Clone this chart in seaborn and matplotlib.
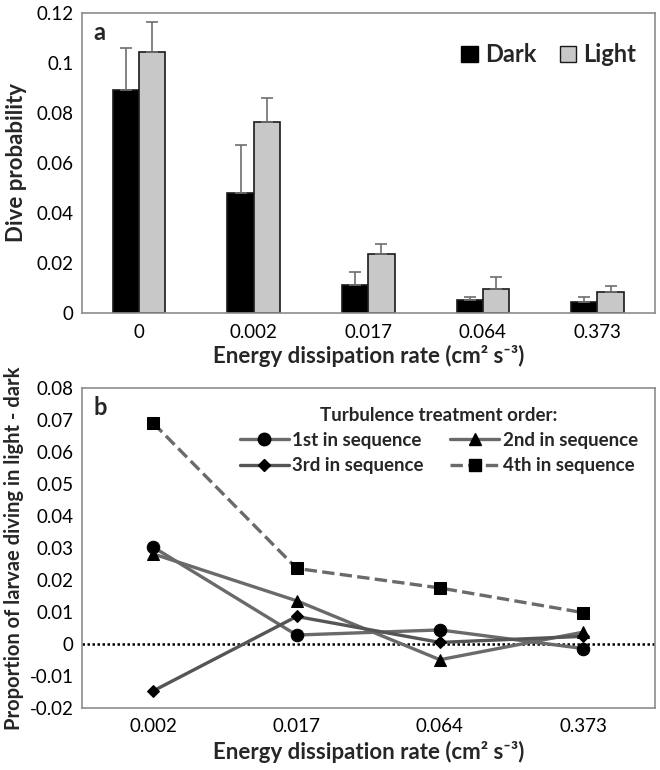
import matplotlib
matplotlib.use("Agg")
from matplotlib import pyplot as plt
from matplotlib.patches import Patch
from matplotlib.lines import Line2D
import seaborn as sns
import pandas as pd

# panel a
rates_a = ["0", "0.002", "0.017", "0.064", "0.373"]
dark = [0.0893, 0.0478, 0.0111, 0.0050, 0.0043]
light = [0.1045, 0.0762, 0.0234, 0.0095, 0.0082]
dark_err = [0.0168, 0.0194, 0.0050, 0.0014, 0.0021]
light_err = [0.0121, 0.0098, 0.0040, 0.0046, 0.0024]

# panel b
rates_b = ["0.002", "0.017", "0.064", "0.373"]
first = [0.0303, 0.0029, 0.0045, -0.0013]
second = [0.0282, 0.0136, -0.0048, 0.0038]
third = [-0.0145, 0.0087, 0.0006, 0.0025]
fourth = [0.0690, 0.0237, 0.0176, 0.0099]
series_names = ["1st in sequence", "2nd in sequence", "3rd in sequence", "4th in sequence"]

xlab = "Energy dissipation rate (cm\u00b2 s\u207b\u00b3)"

sns.set_theme(style="white")
plt.rcParams["font.family"] = ["Lato", "DejaVu Sans"]

fig = plt.figure(figsize=(6.6, 7.7), dpi=100)
ax1 = fig.add_axes([0.124, 0.594, 0.868, 0.389])
ax2 = fig.add_axes([0.124, 0.08, 0.868, 0.416])

edge = "#8c8c8c"
for ax in (ax1, ax2):
    for s in ax.spines.values():
        s.set_color(edge)
        s.set_linewidth(1.2)
    ax.tick_params(axis="both", labelsize=13.5, length=0, colors="black", pad=6)
ax1.tick_params(axis="x", pad=8)

# ---- panel a: bars
df_a = pd.DataFrame({
    "rate": rates_a * 2,
    "value": dark + light,
    "cond": ["Dark"] * len(rates_a) + ["Light"] * len(rates_a),
})
sns.barplot(data=df_a, x="rate", y="value", hue="cond", order=rates_a,
            palette={"Dark": "black", "Light": "#c8c8c8"}, errorbar=None,
            width=0.46, edgecolor="#1a1a1a", linewidth=1.2, ax=ax1, legend=False)

for cont, errs, vals in zip(ax1.containers, [dark_err, light_err], [dark, light]):
    xs = [p.get_x() + p.get_width() / 2 for p in cont.patches]
    ax1.errorbar(xs, vals, yerr=[[0] * len(errs), errs], fmt="none",
                 ecolor="#6e6e6e", elinewidth=1.2, capsize=4, capthick=1.2, zorder=1)

ax1.set_ylim(0, 0.12)
ax1.set_yticks([0, 0.02, 0.04, 0.06, 0.08, 0.1, 0.12])
ax1.set_yticklabels(["0", "0.02", "0.04", "0.06", "0.08", "0.1", "0.12"])
ax1.set_xlim(-0.5, len(rates_a) - 0.5)
ax1.set_xlabel(xlab, fontsize=16, fontweight="bold", labelpad=3)
ax1.set_ylabel("Dive probability", fontsize=16, fontweight="bold", labelpad=7)
ax1.text(0.02, 0.975, "a", transform=ax1.transAxes, fontsize=17, fontweight="bold", va="top")
handles_a = [Patch(facecolor="black", edgecolor="black"),
             Patch(facecolor="#c8c8c8", edgecolor="#1a1a1a")]
ax1.legend(handles_a, ["Dark", "Light"], loc="upper right", ncol=2, frameon=False,
           prop={"size": 17, "weight": "bold"}, handlelength=0.7, handleheight=0.7,
           handletextpad=0.3, columnspacing=1.0, bbox_to_anchor=(1.005, 0.97))

# ---- panel b: lines
df_b = pd.DataFrame({
    "rate": rates_b * 4,
    "value": first + second + third + fourth,
    "order": sum([[n] * len(rates_b) for n in series_names], []),
})
markers = {series_names[0]: "o", series_names[1]: "^", series_names[2]: "D", series_names[3]: "s"}
msizes = {series_names[0]: 9, series_names[1]: 9, series_names[2]: 6, series_names[3]: 9}
colors = {series_names[0]: "#6a6a6a", series_names[1]: "#6a6a6a",
          series_names[2]: "#555555", series_names[3]: "#6a6a6a"}
ax2.axhline(0, color="black", linestyle=(0, (1, 1)), linewidth=1.8, zorder=1)
for name in series_names:
    sub = df_b[df_b["order"] == name]
    sns.lineplot(data=sub, x="rate", y="value", ax=ax2, color=colors[name],
                 linewidth=2.4, linestyle="--" if name.startswith("4th") else "-",
                 marker=markers[name], markersize=msizes[name], markerfacecolor="black",
                 markeredgecolor="black", sort=False, zorder=3)

ax2.set_ylim(-0.02, 0.08)
ax2.set_yticks([-0.02, -0.01, 0, 0.01, 0.02, 0.03, 0.04, 0.05, 0.06, 0.07, 0.08])
ax2.set_yticklabels(["-0.02", "-0.01", "0", "0.01", "0.02", "0.03", "0.04", "0.05", "0.06", "0.07", "0.08"])
ax2.set_xlim(-0.5, len(rates_b) - 0.5)
ax2.tick_params(axis="x", pad=7)
ax2.set_xlabel(xlab, fontsize=16, fontweight="bold", labelpad=4)
ax2.set_ylabel("Proportion of larvae diving in light - dark", fontsize=14.5, fontweight="bold", labelpad=4)
ax2.text(0.02, 0.975, "b", transform=ax2.transAxes, fontsize=17, fontweight="bold", va="top")

handles_b = [Line2D([], [], color=colors[n], linewidth=2.4,
                    linestyle="--" if n.startswith("4th") else "-", marker=markers[n],
                    markersize=msizes[n], markerfacecolor="black", markeredgecolor="black")
             for n in series_names]
order_idx = [0, 2, 1, 3]
ax2.legend([handles_b[i] for i in order_idx], [series_names[i] for i in order_idx],
           loc="upper right", ncol=2, frameon=False, title="Turbulence treatment order:",
           prop={"size": 13.5, "weight": "bold"}, title_fontproperties={"size": 13.5, "weight": "bold"},
           handlelength=2.6, handletextpad=0.2, columnspacing=1.4, labelspacing=0.45,
           bbox_to_anchor=(1.0, 0.995))

fig.savefig("out.png", dpi=100)
